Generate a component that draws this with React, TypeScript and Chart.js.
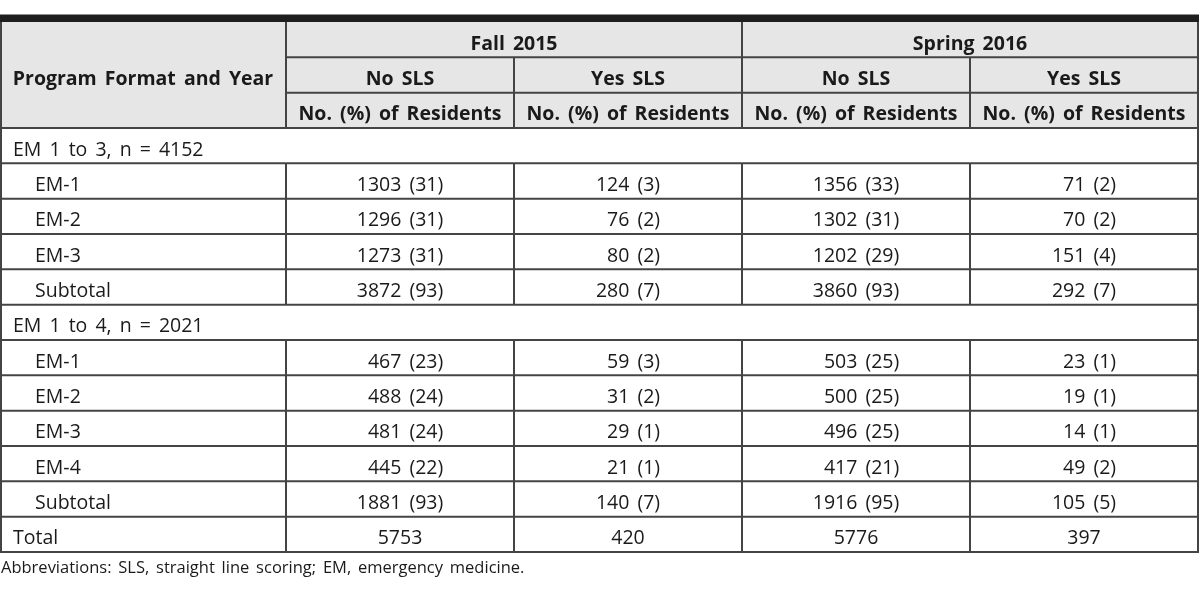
import React, { useEffect, useRef } from "react";
import { Chart, registerables } from "chart.js";

Chart.register(...registerables);

// ---- Table content ----
const terms = ["Fall 2015", "Spring 2016"];
const slsGroups = ["No SLS", "Yes SLS"];
const unitLabel = "No. (%) of Residents";
const rowHeader = "Program Format and Year";
const footnote = "Abbreviations: SLS, straight line scoring; EM, emergency medicine.";

const rowLabels = [
  "EM 1 to 3, n = 4152",
  "EM-1",
  "EM-2",
  "EM-3",
  "Subtotal",
  "EM 1 to 4, n = 2021",
  "EM-1",
  "EM-2",
  "EM-3",
  "EM-4",
  "Subtotal",
  "Total",
];
const rowKinds = [
  "section", "item", "item", "item", "item",
  "section", "item", "item", "item", "item", "item",
  "total",
];

const fallNoSls = [null, 1303, 1296, 1273, 3872, null, 467, 488, 481, 445, 1881, 5753];
const fallNoSlsPct = [null, 31, 31, 31, 93, null, 23, 24, 24, 22, 93, null];
const fallYesSls = [null, 124, 76, 80, 280, null, 59, 31, 29, 21, 140, 420];
const fallYesSlsPct = [null, 3, 2, 2, 7, null, 3, 2, 1, 1, 7, null];
const springNoSls = [null, 1356, 1302, 1202, 3860, null, 503, 500, 496, 417, 1916, 5776];
const springNoSlsPct = [null, 33, 31, 29, 93, null, 25, 25, 25, 21, 95, null];
const springYesSls = [null, 71, 70, 151, 292, null, 23, 19, 14, 49, 105, 397];
const springYesSlsPct = [null, 2, 2, 4, 7, null, 1, 1, 1, 2, 5, null];

const columnLabels = terms.flatMap((t) => slsGroups.map((g) => `${t} – ${g}`));
const columnCounts = [fallNoSls, fallYesSls, springNoSls, springYesSls];
const columnPcts = [fallNoSlsPct, fallYesSlsPct, springNoSlsPct, springYesSlsPct];

// ---- Style ----
const FONT_FAMILY = "'Open Sans', 'Noto Sans', sans-serif";
const FONT_SIZE = 19.5;
const HEADER_BG = "#e6e6e6";
const LINE_COLOR = "#444444";
const TEXT_COLOR = "#1a1a1a";
const TOP_BAR_COLOR = "#1e1e1e";

const cellText = (count: number | null, pct: number | null) =>
  count == null ? "" : pct == null ? `${count}` : `${count} (${pct})`;

const tablePlugin = {
  id: "tableDraw",
  afterDraw(chart: any) {
    const { ctx, chartArea: a, scales } = chart;
    const xs = scales.x;
    const ys = scales.y;
    const colW = (a.right - a.left) / columnLabels.length;
    const rowH = (a.bottom - a.top) / rowLabels.length;
    const headTop = a.top - 3 * rowH;
    const left = 1;
    const right = a.right;
    const baseOff = 10;

    ctx.save();
    // header background
    ctx.fillStyle = HEADER_BG;
    ctx.fillRect(0, headTop, right, 3 * rowH);
    // thick top bar
    ctx.fillStyle = TOP_BAR_COLOR;
    ctx.fillRect(0, headTop - 7.5, right + 1, 7.5);

    ctx.strokeStyle = LINE_COLOR;
    ctx.lineWidth = 2;
    const h = (x1: number, x2: number, y: number) => {
      ctx.beginPath();
      ctx.moveTo(x1, y);
      ctx.lineTo(x2, y);
      ctx.stroke();
    };
    const v = (x: number, y1: number, y2: number) => {
      ctx.beginPath();
      ctx.moveTo(x, y1);
      ctx.lineTo(x, y2);
      ctx.stroke();
    };
    const colEdge = (j: number) => xs.getPixelForValue(j) - colW / 2;

    // header lines
    h(a.left, right, headTop + rowH);
    h(a.left, right, headTop + 2 * rowH);
    v(a.left, headTop, a.top);
    v(colEdge(2), headTop, a.top);
    v(colEdge(1), headTop + rowH, a.top);
    v(colEdge(3), headTop + rowH, a.top);

    // body lines
    v(left, headTop, a.bottom + 1);
    v(right, headTop, a.bottom + 1);
    for (let i = 0; i <= rowLabels.length; i++) {
      const y = i < rowLabels.length ? ys.getPixelForValue(i) - rowH / 2 : a.bottom;
      h(0, right + 1, y);
    }
    rowLabels.forEach((_, i) => {
      if (rowKinds[i] === "section") return;
      const yc = ys.getPixelForValue(i);
      for (let j = 0; j < columnLabels.length; j++) {
        v(colEdge(j), yc - rowH / 2, yc + rowH / 2);
      }
    });

    // header text
    ctx.fillStyle = TEXT_COLOR;
    (ctx as any).wordSpacing = "3px";
    ctx.font = `bold ${FONT_SIZE}px ${FONT_FAMILY}`;
    ctx.textAlign = "center";
    ctx.textBaseline = "alphabetic";
    ctx.fillText(rowHeader, a.left / 2, headTop + 1.5 * rowH + baseOff);
    terms.forEach((t, ti) => {
      const xc = (xs.getPixelForValue(2 * ti) + xs.getPixelForValue(2 * ti + 1)) / 2;
      ctx.fillText(t, xc, headTop + 0.5 * rowH + baseOff);
    });
    columnLabels.forEach((_, j) => {
      const xc = xs.getPixelForValue(j);
      ctx.fillText(slsGroups[j % 2], xc, headTop + 1.5 * rowH + baseOff);
      ctx.fillText(unitLabel, xc, headTop + 2.5 * rowH + baseOff);
    });

    // row labels
    ctx.font = `${FONT_SIZE}px ${FONT_FAMILY}`;
    ctx.textAlign = "left";
    rowLabels.forEach((lab, i) => {
      const yc = ys.getPixelForValue(i);
      const x = rowKinds[i] === "item" ? 35 : 13;
      ctx.fillText(lab, x, yc + baseOff);
    });

    // values
    chart.data.datasets.forEach((ds: any, j: number) => {
      const meta = chart.getDatasetMeta(j);
      const counts = columnCounts[j];
      const pcts = columnPcts[j];
      let maxW = 0;
      counts.forEach((c, i) => {
        if (c != null && pcts[i] != null) maxW = Math.max(maxW, ctx.measureText(cellText(c, pcts[i])).width);
      });
      meta.data.forEach((el: any, i: number) => {
        const c = counts[i];
        if (c == null) return;
        const txt = cellText(c, pcts[i]);
        if (pcts[i] == null) {
          ctx.textAlign = "center";
          ctx.fillText(txt, el.x, el.y + baseOff);
        } else {
          ctx.textAlign = "right";
          ctx.fillText(txt, el.x + maxW / 2, el.y + baseOff);
        }
      });
    });

    // footnote
    (ctx as any).wordSpacing = "2.5px";
    ctx.font = `16.5px ${FONT_FAMILY}`;
    ctx.textAlign = "left";
    ctx.fillText(footnote, 1, a.bottom + 21);
    ctx.restore();
  },
};

export default function App() {
  const ref = useRef<HTMLCanvasElement | null>(null);
  useEffect(() => {
    if (!ref.current) return;
    const datasets = columnLabels.map((col) => ({
      label: col,
      data: rowLabels.map((lab) => ({ x: col, y: lab })),
      pointRadius: 0,
      showLine: false,
    }));
    const chart = new Chart(ref.current, {
      type: "scatter",
      data: { datasets },
      options: {
        responsive: false,
        animation: false,
        events: [],
        layout: { padding: { left: 286, right: 2, top: 128, bottom: 43 } },
        plugins: { legend: { display: false }, tooltip: { enabled: false } },
        scales: {
          x: { type: "category", labels: columnLabels, offset: true, display: false },
          y: { type: "category", labels: rowLabels, offset: true, display: false },
        },
      },
      plugins: [tablePlugin],
    } as any);
    return () => chart.destroy();
  }, []);
  return (
    <div style={{ position: "absolute", left: 0, top: 0, width: 1200, height: 595, background: "#fff" }}>
      <canvas ref={ref} width={1200} height={595} />
    </div>
  );
}
